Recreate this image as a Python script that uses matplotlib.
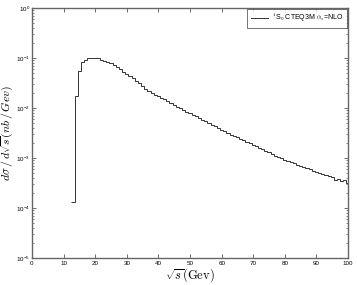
#!/usr/bin/env python3

### IMPORT
import numpy as np
import matplotlib
matplotlib.use('Agg')
import matplotlib.pyplot as plt
from matplotlib.ticker import LogLocator, FixedLocator, NullFormatter

### DATA
# bin edges (1 GeV bins, last one cut at 100)
edges = list(np.arange(12.5, 100.0, 1.0)) + [100.0]
# dsigma/dsqrt(s) per bin
values = [
	1.3e-4, 1.74e-2, 5.5e-2, 8.5e-2, 9.3e-2, 9.8e-2, 0.100, 0.100, 0.098, 0.093,
	0.089, 0.083, 0.079, 0.072, 0.065, 0.059, 0.0525, 0.048, 0.0427, 0.0389,
	0.0347, 0.0309, 0.0275, 0.0245, 0.0219, 0.0200, 0.0186, 0.0170, 0.0158, 0.0148,
	0.0135, 0.0126, 0.0117, 0.0107, 0.0100, 0.0093, 0.0085, 0.0079, 0.0074, 0.0068,
	0.0063, 0.0058, 0.0054, 0.0050, 0.0046, 0.0043, 0.0039, 0.0036, 0.0034, 0.00316,
	0.00295, 0.00275, 0.00257, 0.0024, 0.00224, 0.00209, 0.00195, 0.00182, 0.0017, 0.00158,
	0.00148, 0.00138, 0.00129, 0.0012, 0.00112, 0.00105, 0.00098, 0.00093, 0.00087, 0.00083,
	0.00078, 0.00072, 0.00069, 0.00065, 0.00062, 0.00059, 0.00055, 0.00052, 0.0005, 0.00048,
	0.00045, 0.00043, 0.00041, 0.00037, 0.00038, 0.00035, 0.00036, 0.00032,
]
xticks = [0, 10, 20, 30, 40, 50, 60, 70, 80, 90, 100]
label = r'$^1$S$_0$ CTEQ3M $\alpha_s$=NLO'

### FIGURE
plt.rcParams['font.family'] = ['Liberation Sans', 'DejaVu Sans']
plt.rcParams['mathtext.fontset'] = 'cm'
fig = plt.figure(figsize = (3.57, 2.85), dpi = 100)
ax = fig.add_axes([0.0896, 0.0947, 0.8854, 0.8773])

ax.stairs(values, edges, baseline = None, color = '#333333', linewidth = 0.7, label = label)

ax.set_yscale('log')
ax.set_xlim(0, 100)
ax.set_ylim(1e-5, 1)
ax.xaxis.set_major_locator(FixedLocator(xticks))
ax.yaxis.set_major_locator(LogLocator(base = 10, numticks = 10))
ax.yaxis.set_minor_locator(LogLocator(base = 10, subs = np.arange(2, 10), numticks = 10))
ax.yaxis.set_minor_formatter(NullFormatter())

ax.tick_params(which = 'both', direction = 'in', top = True, right = True,
	labelsize = 4.5, color = '#555555', pad = 2)
ax.tick_params(axis = 'y', pad = 1.5)
ax.tick_params(which = 'major', length = 3, width = 0.6)
ax.tick_params(which = 'minor', length = 1.5, width = 0.5)
for s in ax.spines.values():
	s.set_color('#666666')
	s.set_linewidth(1.0)

ax.set_xlabel(r'$\sqrt{s}(\mathrm{Gev})$', fontsize = 9, labelpad = 0)
ax.set_ylabel(r'$d\sigma\,/\,d\sqrt{s}(nb\,/\,Gev)$', fontsize = 8.5)
ax.yaxis.set_label_coords(-0.053, 0.5)

leg = ax.legend(loc = 'upper right', bbox_to_anchor = (1.0, 1.0), fontsize = 5,
	frameon = True, fancybox = False, borderaxespad = 0.1, handlelength = 2.5,
	borderpad = 0.5, handletextpad = 0.6)
leg.get_frame().set_edgecolor('#333333')
leg.get_frame().set_linewidth(0.6)

### SAVE
fig.savefig('out.png', dpi = 100)
